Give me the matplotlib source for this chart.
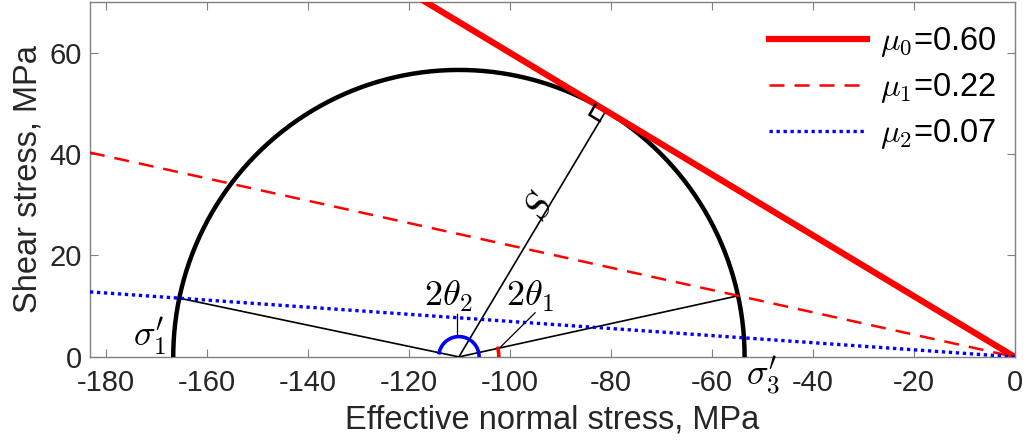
import numpy as np
import matplotlib
matplotlib.use("Agg")
import matplotlib.pyplot as plt
from matplotlib.font_manager import FontProperties

# ---- data ----
sigma1 = -166.7          # effective max principal stress (MPa)
sigma3 = -53.5           # effective min principal stress (MPa)
mus = [0.60, 0.22, 0.07]
mu_labels = [r"$\mu_\mathsf{0}$=0.60", r"$\mu_\mathsf{1}$=0.22", r"$\mu_\mathsf{2}$=0.07"]
xticks = list(range(-180, 1, 20))
yticks = [0, 20, 40, 60]
xlim = (-183.2, 0)
ylim = (0, 70)

plt.rcParams['font.family'] = ['Liberation Sans', 'DejaVu Sans']
plt.rcParams['mathtext.fontset'] = 'cm'
plt.rcParams['axes.unicode_minus'] = False

fig = plt.figure(figsize=(10.28, 4.45), dpi=100)
ax = fig.add_axes([0.0875, 0.198, 0.8995, 0.7975])

c = 0.5 * (sigma1 + sigma3)
R = 0.5 * (sigma3 - sigma1)

# Mohr circle (upper half)
th = np.linspace(0, np.pi, 400)
ax.plot(c + R * np.cos(th), R * np.sin(th), color='k', lw=3.2, zorder=3)

# friction lines
xs = np.array([xlim[0], 0.0])
styles = [dict(color='red', lw=4.5, ls='-'),
          dict(color='red', lw=1.8, ls=(0, (6, 4))),
          dict(color='blue', lw=2.4, ls=(0, (1, 1.1)))]
handles = []
for mu, lab, st in zip(mus, mu_labels, styles):
    h, = ax.plot(xs, -mu * xs, label=lab, zorder=4, **st)
    handles.append(h)

# intersections for chords
def intersect(mu, side):
    a = 1 + mu ** 2
    b = -2 * c
    cc = c ** 2 - R ** 2
    d = np.sqrt(b * b - 4 * a * cc)
    x = (-b + side * d) / (2 * a)
    return x, -mu * x

xl, yl = intersect(mus[2], -1)
xr, yr = intersect(mus[1], +1)
ax.plot([xl, c, xr], [yl, 0, yr], color='k', lw=1.2, zorder=3)

# S line to tangent point of mu0
m0 = mus[0]
d = np.array([-1.0, m0]) / np.hypot(1, m0)
t = (-c) * (-d[0])
T = t * d
ax.plot([c, T[0]], [0, T[1]], color='k', lw=1.2, zorder=3)
# right-angle marker
n = (np.array([c, 0]) - T)
n = n / np.linalg.norm(n)
a_sz = 2.4
p1 = T + a_sz * d
p2 = p1 + a_sz * n
p3 = T + a_sz * n
ax.plot([p1[0], p2[0], p3[0]], [p1[1], p2[1], p3[1]], color='k', lw=1.8, zorder=5)

ang_S = np.degrees(np.arctan2(T[1], T[0] - c))
ax.text(-94.0, 29.5, r"$S$", fontsize=27, rotation=ang_S,
        ha='center', va='center', rotation_mode='anchor')

# angle arcs
angL = np.arctan2(yl, xl - c)
angR = np.arctan2(yr, xr - c)
tb = np.linspace(0, angL, 100)
ax.plot(c + 4.0 * np.cos(tb), 4.0 * np.sin(tb), color='blue', lw=2.6, zorder=6)
tr = np.linspace(0, angR, 30)
ax.plot(c + 7.9 * np.cos(tr), 7.9 * np.sin(tr), color='red', lw=2.6, zorder=6)

# labels
fs_m = 26
ax.text(-112.3, 11.9, r"$2\theta_2$", fontsize=fs_m, ha='center', va='center')
ax.plot([-110.5, -110.5], [8.5, 4.2], color='k', lw=0.9)
ax.text(-96.0, 11.9, r"$2\theta_1$", fontsize=fs_m, ha='center', va='center')
ax.plot([-95.0, -102.0], [8.7, 1.8], color='k', lw=0.9)
ax.text(-171.3, 4.0, r"$\sigma_1^\prime$", fontsize=fs_m, ha='center', va='center')
ax.text(-49.8, -3.6, r"$\sigma_3^\prime$", fontsize=fs_m, ha='center', va='center',
        clip_on=False)

ax.set_xlim(*xlim)
ax.set_ylim(*ylim)
ax.set_xticks(xticks)
ax.set_yticks(yticks)
ax.tick_params(direction='in', top=True, right=True, length=6, width=0.8,
               color='#808080', labelsize=21, labelcolor='#262626')
ax.tick_params(axis='x', pad=9)
ax.tick_params(axis='y', pad=6)
for s in ax.spines.values():
    s.set_color('#808080')
    s.set_linewidth(1.0)
ax.set_xlabel("Effective normal stress, MPa", fontsize=23.5, color='#262626', labelpad=5)
ax.set_ylabel("Shear stress, MPa", fontsize=23.5, color='#262626', labelpad=4)

lp = FontProperties(family='Liberation Sans', size=23.5, math_fontfamily='cm')
leg = ax.legend(handles=handles, loc='upper right', frameon=False, prop=lp,
                handlelength=3.0, handletextpad=0.4, labelspacing=0.37,
                borderpad=0, borderaxespad=0,
                bbox_to_anchor=(0.98, 0.935))

fig.savefig("out.png", dpi=100)
